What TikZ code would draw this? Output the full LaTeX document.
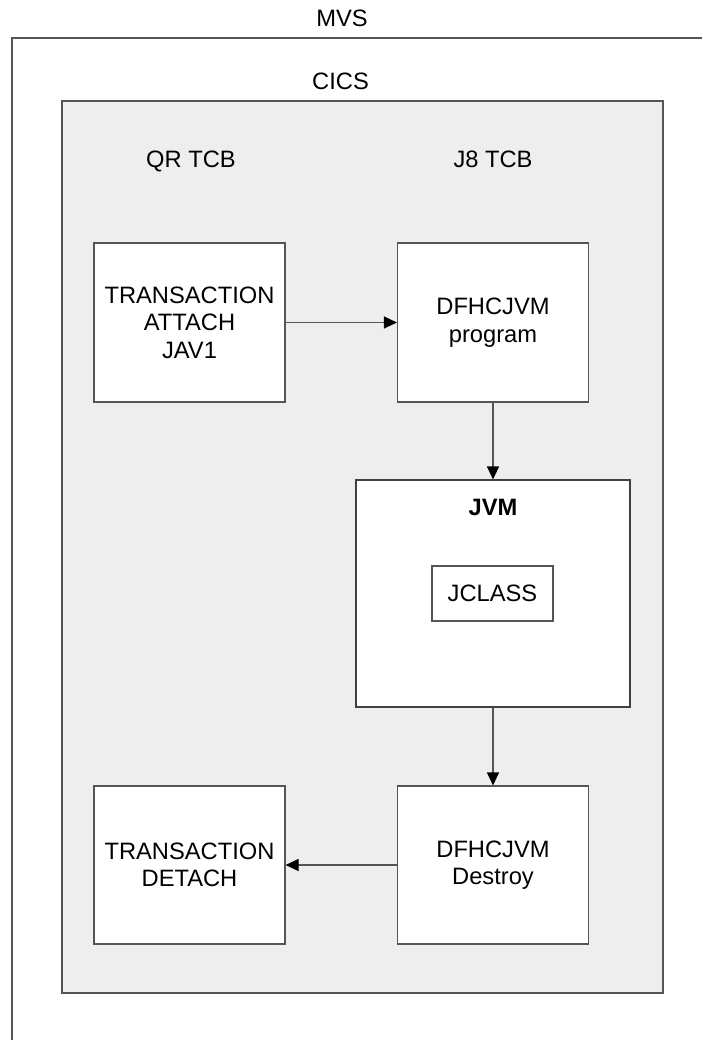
\documentclass[tikz,border=0pt]{standalone}
\usepackage{fontspec}
\setmainfont{Liberation Sans}
\usetikzlibrary{arrows.meta}
\definecolor{cicsgray}{HTML}{EEEEEE}
\definecolor{linegray}{HTML}{555555}

\begin{document}
\begin{tikzpicture}[x=1pt,y=-1pt,line width=1.1pt,
  txt/.style={font=\fontsize{23.7}{27.5}\selectfont,align=center,inner sep=0pt},
  box/.style={txt,draw=linegray,fill=white,minimum width=191pt,minimum height=159pt},
  arr/.style={draw=linegray,-{Triangle[length=13pt,width=12pt,black]}}]
  \useasboundingbox (0,0) rectangle (702,1040);
  \draw[linegray] (12,1040) -- (12,38) -- (702,38);
  \filldraw[draw=linegray,fill=cicsgray] (62,101) rectangle (663,993);
  \path (342,27) node[txt,anchor=base] (mvs) {MVS} (340.5,90) node[txt,anchor=base] (cics) {CICS}
  (191,168) node[txt,anchor=base] (qrtcb) {QR TCB} (493,168) node[txt,anchor=base] (jtcb) {J8 TCB};
  \path (189.5,322.5) node[box] (attach) {TRANSACTION\\ATTACH\\JAV1}
  (493,322.5) node[box] (program) {DFHCJVM\\program}
  (493,593.5) node[box,draw=black!75,minimum width=274pt,minimum height=227pt] (jvm) {}
  (493,515) node[txt,anchor=base,font=\fontsize{23.7}{27.5}\selectfont\bfseries] (jvmlbl) {JVM}
  (492.5,593.5) node[box,minimum width=121pt,minimum height=55pt] (jclass) {JCLASS}
  (493,865) node[box,minimum height=158pt] (destroy) {DFHCJVM\\Destroy}
  (189.5,865) node[box,minimum height=158pt] (detach) {TRANSACTION\\DETACH};
  \draw[arr] (attach) -- (program);
  \draw[arr] (program) -- (jvm);
  \draw[arr] (jvm) -- (destroy);
  \draw[arr] (destroy) -- (detach);
\end{tikzpicture}
\end{document}
